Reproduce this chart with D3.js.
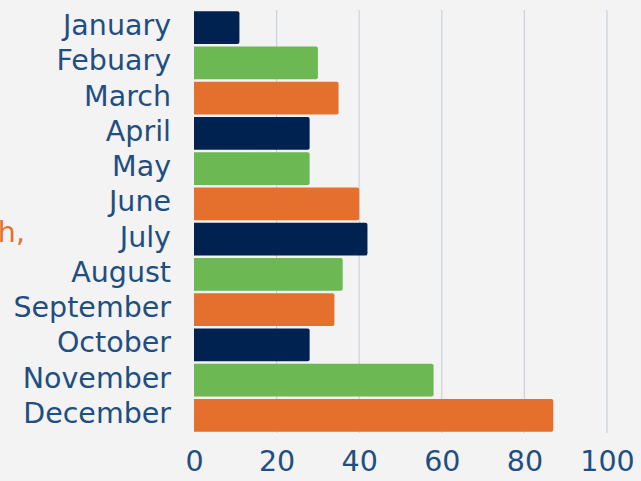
<!DOCTYPE html>
<html>
<head>
<meta charset="utf-8">
<script src="https://cdn.jsdelivr.net/npm/d3@7"></script>
<style>
  body { margin: 0; background: #f3f3f3; }
  svg { display: block; }
  .lbl { font-family: "DejaVu Sans", sans-serif; font-size: 28.5px; fill: #1f4e80; }
</style>
</head>
<body>
<div id="viz"></div>
<script>
var months = ["January", "Febuary", "March", "April", "May", "June", "July",
              "August", "September", "October", "November", "December"];
var values = [11, 30, 35, 28, 28, 40, 42, 36, 34, 28, 58, 87];
var palette = ["#002251", "#6cb852", "#e5702e"];
var ticks = [0, 20, 40, 60, 80, 100];

var width = 641, height = 481;
var margin = {top: 10, right: 34, bottom: 48, left: 194};

var svg = d3.select("#viz")
    .append("svg")
    .attr("width", width)
    .attr("height", height);

svg.append("rect")
    .attr("width", width)
    .attr("height", height)
    .attr("fill", "#f3f3f3");

var x = d3.scaleLinear()
    .domain([0, 100])
    .range([margin.left, width - margin.right]);

var y = d3.scaleBand()
    .domain(months)
    .range([margin.top, height - margin.bottom])
    .paddingInner(0.07)
    .paddingOuter(0.035);

// gridlines
svg.append("g")
    .selectAll("line")
    .data(ticks.slice(1))
    .enter()
    .append("line")
    .attr("x1", function(d) { return x(d); })
    .attr("x2", function(d) { return x(d); })
    .attr("y1", margin.top)
    .attr("y2", height - margin.bottom)
    .attr("stroke", "#c9d3dd")
    .attr("stroke-width", 1.2);

// bars, rounded only on the right end
svg.append("g")
    .selectAll("path")
    .data(months)
    .enter()
    .append("path")
    .attr("fill", function(d, i) { return palette[i % 3]; })
    .attr("d", function(d, i) {
        var x0 = x(0), x1 = x(values[i]), y0 = y(d), h = y.bandwidth(), r = 2;
        return "M" + x0 + "," + y0 +
            "H" + (x1 - r) + "Q" + x1 + "," + y0 + " " + x1 + "," + (y0 + r) +
            "V" + (y0 + h - r) + "Q" + x1 + "," + (y0 + h) + " " + (x1 - r) + "," + (y0 + h) +
            "H" + x0 + "Z";
    });

// month labels
var yAxis = svg.append("g")
    .attr("transform", "translate(" + (margin.left - 23) + ",0)")
    .call(d3.axisLeft(y).tickSize(0).tickPadding(0));
yAxis.select(".domain").remove();
yAxis.selectAll("text").attr("class", "lbl").attr("fill", null).attr("dy", "0.26em");

// value labels
var xAxis = svg.append("g")
    .attr("transform", "translate(0," + (height - margin.bottom) + ")")
    .call(d3.axisBottom(x).tickValues(ticks).tickSize(0).tickPadding(18));
xAxis.select(".domain").remove();
xAxis.selectAll("text").attr("class", "lbl").attr("fill", null);

// cut-off title fragment at the left edge
svg.append("text")
    .text("month,")
    .attr("x", 25)
    .attr("y", 242)
    .attr("text-anchor", "end")
    .style("font-family", "DejaVu Sans, sans-serif")
    .style("font-size", "28.5px")
    .style("fill", "#e5702e");
</script>
</body>
</html>
